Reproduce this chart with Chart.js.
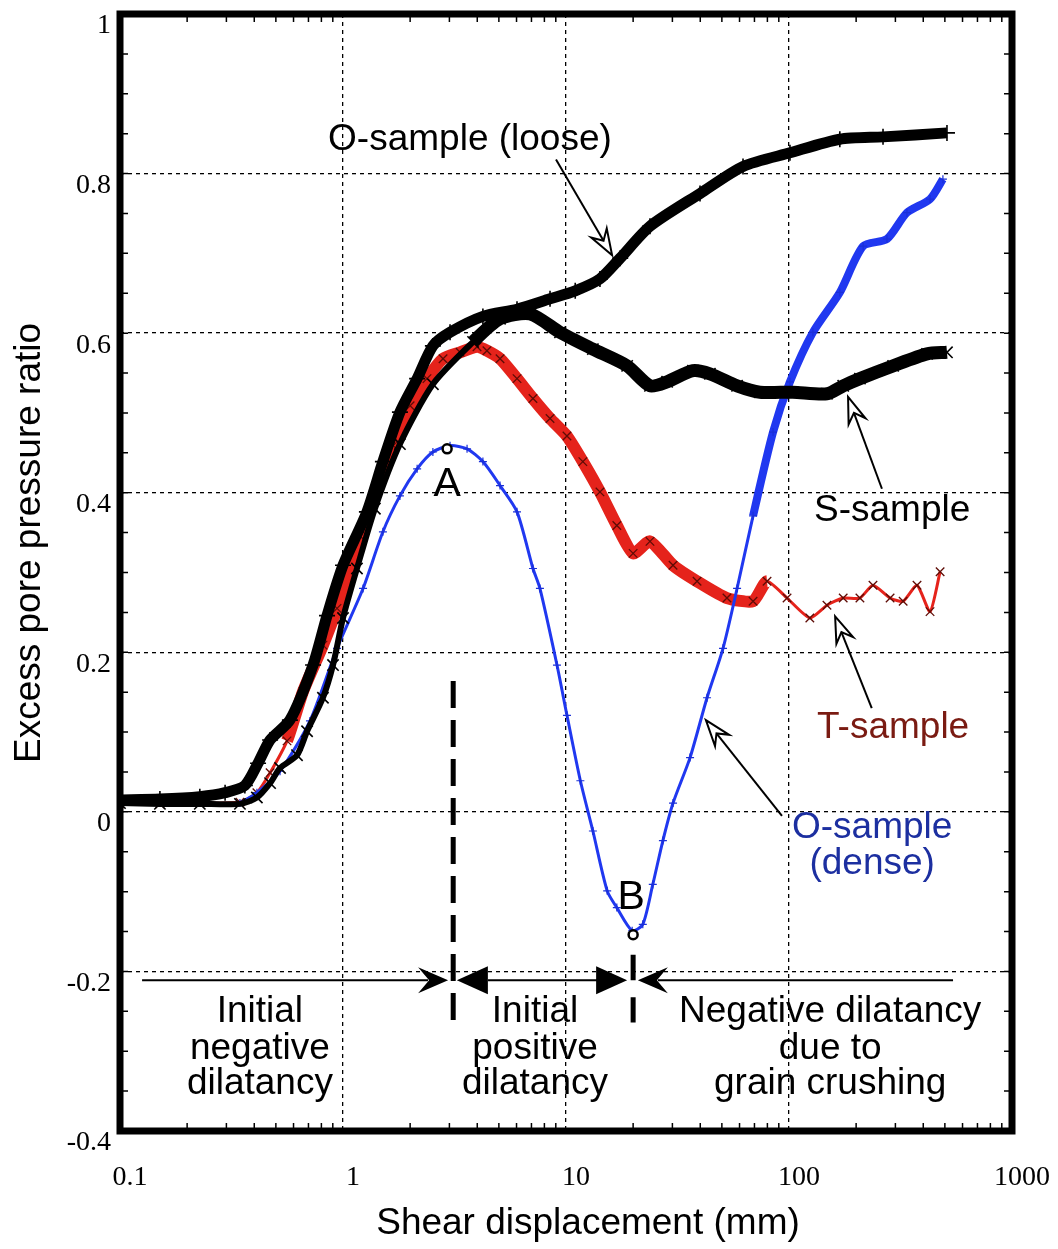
<!DOCTYPE html>
<html>
<head>
<meta charset="utf-8">
<title>Excess pore pressure ratio vs shear displacement</title>
<script src="https://cdn.jsdelivr.net/npm/chart.js@4.4.1/dist/chart.umd.min.js"></script>
<style>
  html, body { margin: 0; padding: 0; background: #fff; }
  canvas { display: block; }
</style>
</head>
<body>
<canvas id="chart" width="1058" height="1249"></canvas>
<script>
// axis ticks
var xTicks = [0.1, 1, 10, 100, 1000];
var xTickLabels = ['0.1', '1', '10', '100', '1000'];
var yTicks = [-0.4, -0.2, 0, 0.2, 0.4, 0.6, 0.8, 1];
var yTickLabels = ['-0.4', '-0.2', '0', '0.2', '0.4', '0.6', '0.8', '1'];

// O-sample (loose)
var looseX = [0.1, 0.151, 0.228, 0.296, 0.363, 0.416, 0.471, 0.578, 0.734, 0.848, 1.0, 1.28, 1.51, 1.80, 2.15, 2.53, 3.02, 4.24, 6.03, 8.48, 11.0, 14.2, 17.5, 23.8, 39.9, 62.2, 101, 169, 264, 511];
var looseY = [0.015, 0.016, 0.019, 0.024, 0.033, 0.061, 0.090, 0.115, 0.184, 0.246, 0.309, 0.376, 0.439, 0.501, 0.543, 0.584, 0.601, 0.621, 0.630, 0.643, 0.653, 0.668, 0.694, 0.734, 0.775, 0.809, 0.826, 0.843, 0.846, 0.851];

// S-sample
var sX = [0.1, 0.151, 0.228, 0.345, 0.411, 0.471, 0.522, 0.622, 0.690, 0.813, 0.902, 1.0, 1.155, 1.39, 1.80, 2.53, 3.83, 5.06, 6.90, 9.40, 13.2, 18.8, 23.8, 28.4, 37.1, 44.2, 58.5, 74.1, 104, 148, 175, 208, 293, 416, 511];
var sY = [0.011, 0.010, 0.010, 0.010, 0.018, 0.036, 0.055, 0.071, 0.101, 0.143, 0.184, 0.243, 0.305, 0.380, 0.461, 0.536, 0.589, 0.618, 0.624, 0.601, 0.580, 0.559, 0.534, 0.539, 0.553, 0.549, 0.534, 0.526, 0.526, 0.524, 0.534, 0.543, 0.559, 0.574, 0.576];

// T-sample
var tX = [0.1, 0.151, 0.228, 0.345, 0.411, 0.471, 0.561, 0.662, 0.813, 0.94, 1.19, 1.68, 2.00, 2.38, 2.81, 3.35, 3.99, 4.42, 5.06, 6.03, 7.11, 8.48, 10.1, 11.9, 14.2, 16.9, 20.0, 23.8, 30.2, 38.7, 52.7, 69.0, 79.7, 98.0, 124, 148, 175, 208, 238, 284, 325, 375, 429, 476];
var tY = [0.010, 0.010, 0.011, 0.012, 0.024, 0.049, 0.089, 0.151, 0.209, 0.255, 0.346, 0.459, 0.509, 0.543, 0.568, 0.576, 0.583, 0.578, 0.568, 0.543, 0.518, 0.493, 0.471, 0.439, 0.401, 0.359, 0.324, 0.339, 0.309, 0.289, 0.268, 0.264, 0.289, 0.268, 0.243, 0.259, 0.268, 0.268, 0.284, 0.268, 0.264, 0.284, 0.251, 0.301];

// O-sample (dense)
var denseX = [0.345, 0.411, 0.522, 0.711, 0.94, 1.23, 1.51, 1.80, 2.15, 2.53, 3.02, 3.60, 4.24, 5.06, 6.03, 7.11, 7.64, 9.11, 10.1, 11.6, 13.2, 15.3, 16.9, 19.8, 22.1, 24.5, 27.2, 30.2, 36.0, 42.9, 50.6, 58.5, 69.0, 84.8, 101, 128, 169, 215, 275, 338, 429, 490];
var denseY = [0.011, 0.024, 0.051, 0.114, 0.205, 0.280, 0.351, 0.396, 0.430, 0.451, 0.459, 0.455, 0.439, 0.409, 0.376, 0.305, 0.280, 0.184, 0.121, 0.039, -0.024, -0.099, -0.120, -0.149, -0.141, -0.091, -0.036, 0.011, 0.068, 0.143, 0.205, 0.280, 0.371, 0.476, 0.539, 0.601, 0.651, 0.709, 0.718, 0.751, 0.768, 0.793];

function toPoints(xs, ys) {
    var pts = [];
    for (var i = 0; i < xs.length; i++) {
        pts.push({x: xs[i], y: ys[i]});
    }
    return pts;
}

var SANS = '"Liberation Sans", Arial, sans-serif';

// hollow notched arrow head (the pointer arrows)
function pointerArrow(ctx, x1, y1, x2, y2) {
    var dx = x2 - x1, dy = y2 - y1;
    var len = Math.sqrt(dx * dx + dy * dy);
    var ux = dx / len, uy = dy / len, nx = -uy, ny = ux;
    var hl = 26, hw = 9, notch = 17;
    ctx.save();
    ctx.strokeStyle = '#000';
    ctx.lineWidth = 2;
    ctx.beginPath();
    ctx.moveTo(x1, y1);
    ctx.lineTo(x2 - ux * notch, y2 - uy * notch);
    ctx.stroke();
    ctx.beginPath();
    ctx.moveTo(x2, y2);
    ctx.lineTo(x2 - ux * hl + nx * hw, y2 - uy * hl + ny * hw);
    ctx.lineTo(x2 - ux * notch, y2 - uy * notch);
    ctx.lineTo(x2 - ux * hl - nx * hw, y2 - uy * hl - ny * hw);
    ctx.closePath();
    ctx.fillStyle = '#fff';
    ctx.fill();
    ctx.stroke();
    ctx.restore();
}

// filled heads for the bottom range arrows, dir = +1 points right
function barbHead(ctx, tx, ty, dir) {
    ctx.beginPath();
    ctx.moveTo(tx, ty);
    ctx.lineTo(tx - dir * 30, ty - 13);
    ctx.lineTo(tx - dir * 19, ty);
    ctx.lineTo(tx - dir * 30, ty + 13);
    ctx.closePath();
    ctx.fill();
}
function solidHead(ctx, tx, ty, dir) {
    ctx.beginPath();
    ctx.moveTo(tx, ty);
    ctx.lineTo(tx - dir * 31, ty - 14);
    ctx.lineTo(tx - dir * 31, ty + 14);
    ctx.closePath();
    ctx.fill();
}

var overlay = {
    id: 'overlay',
    afterDraw: function(chart) {
        var ctx = chart.ctx, a = chart.chartArea;
        var xs = chart.scales.x, ys = chart.scales.y;
        var X = function(v) { return xs.getPixelForValue(v); };
        var Y = function(v) { return ys.getPixelForValue(v); };

        ctx.save();

        // minor ticks inside the frame
        ctx.strokeStyle = '#000';
        ctx.lineWidth = 1.5;
        ctx.beginPath();
        [0.1, 1, 10, 100].forEach(function(d) {
            for (var m = 2; m <= 9; m++) {
                var px = X(d * m);
                ctx.moveTo(px, a.top); ctx.lineTo(px, a.top + 8);
                ctx.moveTo(px, a.bottom); ctx.lineTo(px, a.bottom - 8);
            }
        });
        for (var k = 0; k < 28; k++) {
            var py = Y(-0.4 + k * 0.05);
            ctx.moveTo(a.left, py); ctx.lineTo(a.left + 8, py);
            ctx.moveTo(a.right, py); ctx.lineTo(a.right - 8, py);
        }
        ctx.stroke();

        // thick frame
        ctx.lineWidth = 7;
        ctx.strokeRect(a.left, a.top, a.right - a.left, a.bottom - a.top);

        // axis titles
        ctx.fillStyle = '#000';
        ctx.font = '37px ' + SANS;
        ctx.textAlign = 'center';
        ctx.textBaseline = 'middle';
        ctx.fillText('Shear displacement (mm)', 588, 1224);
        ctx.save();
        ctx.translate(30, 543);
        ctx.rotate(-Math.PI / 2);
        ctx.fillText('Excess pore pressure ratio', 0, 0);
        ctx.restore();

        // series labels
        ctx.fillText('O-sample (loose)', X(3.71), Y(0.8425));
        ctx.fillText('S-sample', X(290), Y(0.3775));
        ctx.fillStyle = '#7a1b12';
        ctx.fillText('T-sample', X(293), Y(0.105));
        ctx.fillStyle = '#1c2fa0';
        ctx.fillText('O-sample', X(236), Y(-0.02));
        ctx.fillText('(dense)', X(236), Y(-0.065));

        pointerArrow(ctx, X(9.02), Y(0.8175), X(16.1), Y(0.6975));
        pointerArrow(ctx, X(261), Y(0.405), X(184), Y(0.52));
        pointerArrow(ctx, X(235), Y(0.13), X(161), Y(0.245));
        pointerArrow(ctx, X(93), Y(-0.005), X(42.4), Y(0.115));

        // points A and B
        ctx.fillStyle = '#000';
        ctx.font = '41px ' + SANS;
        ctx.fillText('A', X(2.93), Y(0.41));
        ctx.fillText('B', X(19.6), Y(-0.1075));
        ctx.lineWidth = 2.5;
        [[2.93, 0.455], [20.0, -0.154]].forEach(function(p) {
            ctx.beginPath();
            ctx.arc(X(p[0]), Y(p[1]), 4.5, 0, Math.PI * 2);
            ctx.fillStyle = '#fff';
            ctx.fill();
            ctx.stroke();
        });

        // dashed divider at A and marks at B
        ctx.lineWidth = 5;
        ctx.setLineDash([27, 12]);
        ctx.beginPath();
        ctx.moveTo(X(3.12), Y(0.164));
        ctx.lineTo(X(3.12), Y(-0.262));
        ctx.stroke();
        ctx.setLineDash([]);
        ctx.beginPath();
        ctx.moveTo(X(20.0), Y(-0.179)); ctx.lineTo(X(20.0), Y(-0.211));
        ctx.moveTo(X(20.0), Y(-0.2325)); ctx.lineTo(X(20.0), Y(-0.264));
        ctx.stroke();

        // range arrows
        var ay = Y(-0.211);
        ctx.lineWidth = 2;
        ctx.fillStyle = '#000';
        ctx.beginPath();
        ctx.moveTo(X(0.1256), ay); ctx.lineTo(X(2.96) - 20, ay);
        ctx.moveTo(X(4.47), ay); ctx.lineTo(X(13.8), ay);
        ctx.moveTo(X(21.0) + 20, ay); ctx.lineTo(X(544), ay);
        ctx.stroke();
        barbHead(ctx, X(2.96), ay, 1);
        solidHead(ctx, X(3.24), ay, -1);
        solidHead(ctx, X(18.8), ay, 1);
        barbHead(ctx, X(21.0), ay, -1);

        // range captions
        ctx.font = '37px ' + SANS;
        var captions = [
            [0.424, ['Initial', 'negative', 'dilatancy']],
            [7.26, ['Initial', 'positive', 'dilatancy']],
            [153, ['Negative dilatancy', 'due to', 'grain crushing']]
        ];
        var rows = [-0.251, -0.2975, -0.341];
        captions.forEach(function(c) {
            for (var r = 0; r < 3; r++) {
                ctx.fillText(c[1][r], X(c[0]), Y(rows[r]));
            }
        });

        ctx.restore();
    }
};

var chart = new Chart(document.getElementById('chart'), {
    type: 'scatter',
    data: {
        datasets: [
            {
                label: 'O-sample (loose)',
                data: toPoints(looseX, looseY),
                showLine: true,
                order: 1,
                tension: 0.25,
                borderColor: '#000',
                borderWidth: 11,
                pointStyle: 'cross',
                pointRadius: 8,
                pointBorderWidth: 1.6,
                pointBorderColor: '#000'
            },
            {
                label: 'S-sample',
                data: toPoints(sX, sY),
                showLine: true,
                order: 2,
                tension: 0.25,
                borderColor: '#000',
                borderWidth: 12,
                segment: { borderWidth: function(c) { return c.p0.parsed.x < 3 ? 6 : 13; } },
                pointStyle: 'crossRot',
                pointRadius: 8,
                pointBorderWidth: 1.6,
                pointBorderColor: '#000'
            },
            {
                label: 'O-sample (dense)',
                data: toPoints(denseX, denseY),
                showLine: true,
                order: 3,
                tension: 0.25,
                borderColor: '#2038f0',
                borderWidth: 3,
                segment: { borderWidth: function(c) { return c.p0.parsed.x > 60 ? 8 : 3; } },
                pointStyle: 'cross',
                pointRadius: 4,
                pointBorderWidth: 1.2,
                pointBorderColor: '#1a2fd8'
            },
            {
                label: 'T-sample',
                data: toPoints(tX, tY),
                showLine: true,
                order: 4,
                tension: 0.2,
                borderColor: '#e5231b',
                borderWidth: 12,
                segment: { borderWidth: function(c) { return c.p0.parsed.x > 70 ? 3 : (c.p0.parsed.x < 0.5 ? 3 : 12); } },
                pointStyle: 'crossRot',
                pointRadius: 6,
                pointBorderWidth: 1.3,
                pointBorderColor: '#5e0c06'
            }
        ]
    },
    options: {
        responsive: false,
        animation: false,
        layout: { padding: { top: 14, right: 46, left: 0, bottom: 0 } },
        plugins: {
            legend: { display: false },
            tooltip: { enabled: false }
        },
        scales: {
            x: {
                type: 'logarithmic',
                min: 0.1,
                max: 1000,
                afterBuildTicks: function(s) { s.ticks = xTicks.map(function(v) { return {value: v}; }); },
                afterFit: function(s) {
                    s.height = 118;
                    s.paddingLeft = 0;
                    s.paddingRight = 0;
                },
                ticks: {
                    callback: function(v, i) { return xTickLabels[i]; },
                    font: { family: '"Liberation Serif", "Times New Roman", serif', size: 28 },
                    color: '#000',
                    padding: 30,
                    labelOffset: 10,
                    autoSkip: false,
                    maxRotation: 0
                },
                grid: { color: '#000', lineWidth: 1.3, drawTicks: false },
                border: { display: false, dash: [4, 4] }
            },
            y: {
                min: -0.4,
                max: 1,
                afterBuildTicks: function(s) { s.ticks = yTicks.map(function(v) { return {value: v}; }); },
                afterFit: function(s) {
                    s.width = 120;
                    s.paddingTop = 0;
                    s.paddingBottom = 0;
                },
                ticks: {
                    callback: function(v, i) { return yTickLabels[i]; },
                    font: { family: '"Liberation Serif", "Times New Roman", serif', size: 28 },
                    color: '#000',
                    padding: 9,
                    labelOffset: 12
                },
                grid: { color: '#000', lineWidth: 1.3, drawTicks: false },
                border: { display: false, dash: [4, 4] }
            }
        }
    },
    plugins: [overlay]
});
</script>
</body>
</html>
